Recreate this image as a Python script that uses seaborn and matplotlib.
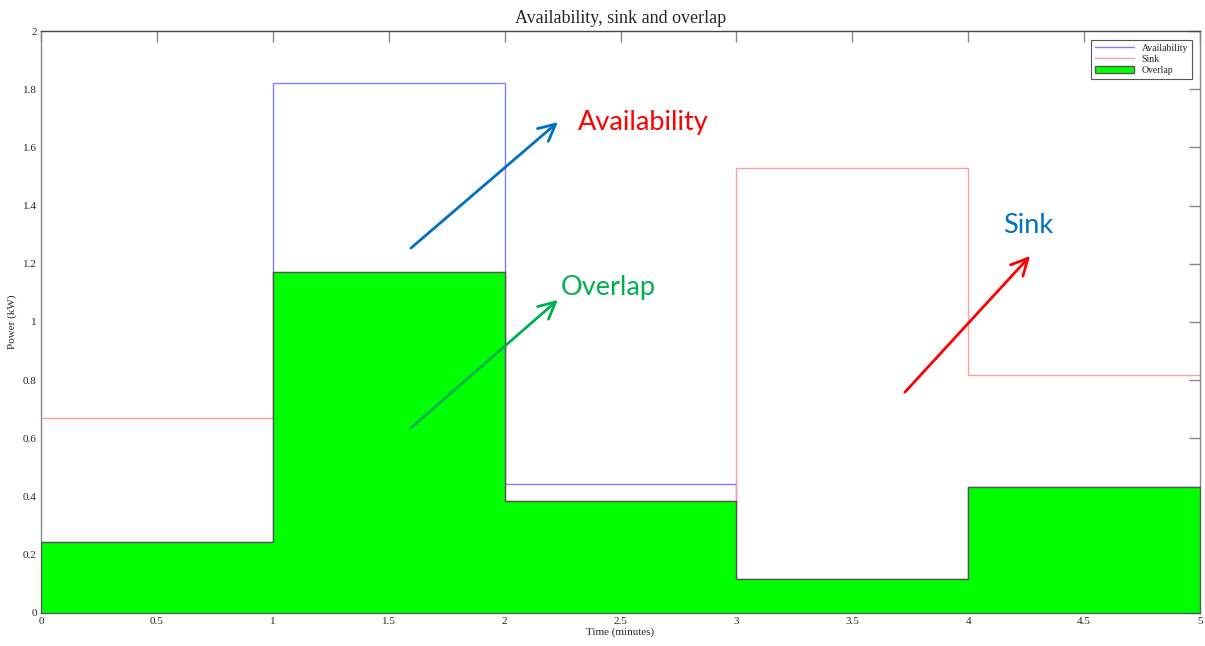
import matplotlib
matplotlib.use("Agg")
import matplotlib.pyplot as plt
import seaborn as sns
import pandas as pd

# Interval edges (minutes) and per-interval power levels (kW)
edges = [0, 1, 2, 3, 4, 5]
availability = [0.245, 1.822, 0.443, 0.118, 0.434]
sink = [0.671, 1.171, 0.386, 1.528, 0.817]
overlap = [0.245, 1.171, 0.386, 0.118, 0.434]

x_ticks = [0, 0.5, 1, 1.5, 2, 2.5, 3, 3.5, 4, 4.5, 5]
y_ticks = [0, 0.2, 0.4, 0.6, 0.8, 1.0, 1.2, 1.4, 1.6, 1.8, 2.0]


def stepped(values):
    # repeat last level so the post-step reaches the final edge
    return pd.DataFrame({"t": edges, "p": list(values) + [values[-1]]})


sns.set_style("white")
plt.rcParams["font.family"] = ["Liberation Serif", "DejaVu Serif"]

fig = plt.figure(figsize=(12.05, 6.46), dpi=100)
ax = fig.add_axes([0.034, 0.0511, 0.9619, 0.9009])

sns.lineplot(data=stepped(availability), x="t", y="p", drawstyle="steps-post",
             color="#7f7fff", lw=1.0, ax=ax, label="Availability", zorder=2)
sns.lineplot(data=stepped(sink), x="t", y="p", drawstyle="steps-post",
             color="#ff9c9c", lw=1.0, ax=ax, label="Sink", zorder=2)
ov = stepped(overlap)
ax.fill_between(ov["t"], 0, ov["p"], step="post", facecolor="#00ff00",
                edgecolor="#555555", lw=1.0, label="Overlap", zorder=3)

ax.set_xlim(0, 5)
ax.set_ylim(0, 2)
ax.set_xticks(x_ticks)
ax.set_xticklabels([f"{v:g}" for v in x_ticks])
ax.set_yticks(y_ticks)
ax.set_yticklabels([f"{v:g}" for v in y_ticks])
ax.tick_params(direction="in", length=8, width=1, color="#888888",
               top=True, right=True, labelsize=8, pad=3)
for s in ax.spines.values():
    s.set_color("#888888")
    s.set_linewidth(1.0)
ax.spines["top"].set_color("#444444")

ax.set_xlabel("Time (minutes)", fontsize=8, labelpad=1)
ax.set_ylabel("Power (kW)", fontsize=8, labelpad=4)
ax.set_title("Availability, sink and overlap", fontsize=13, pad=6)

leg = ax.legend(loc="upper right", fontsize=7, frameon=True, fancybox=False,
                edgecolor="#555555", framealpha=1, handlelength=4,
                borderpad=0.4, labelspacing=0.2, bbox_to_anchor=(0.997, 0.993))
leg.get_frame().set_linewidth(0.8)

# Callouts
callouts = [
    ("Availability", "#ff0000", "#0070c0", (1.596, 1.254), (2.230, 1.687), (2.317, 1.684)),
    ("Overlap", "#00b050", "#00b050", (1.596, 0.636), (2.230, 1.076), (2.243, 1.117)),
    ("Sink", "#0070c0", "#ff0000", (3.727, 0.759), (4.267, 1.227), (4.150, 1.330)),
]
for text, tcol, acol, tail, head, pos in callouts:
    ax.annotate("", xy=head, xytext=tail,
                arrowprops=dict(arrowstyle="->", color=acol, lw=2.0,
                                mutation_scale=30, shrinkA=0, shrinkB=0),
                zorder=5)
    ax.text(pos[0], pos[1], text, color=tcol, fontsize=19.5, family="Lato",
            ha="left", va="center", zorder=5)

fig.savefig("out.png", dpi=100)
